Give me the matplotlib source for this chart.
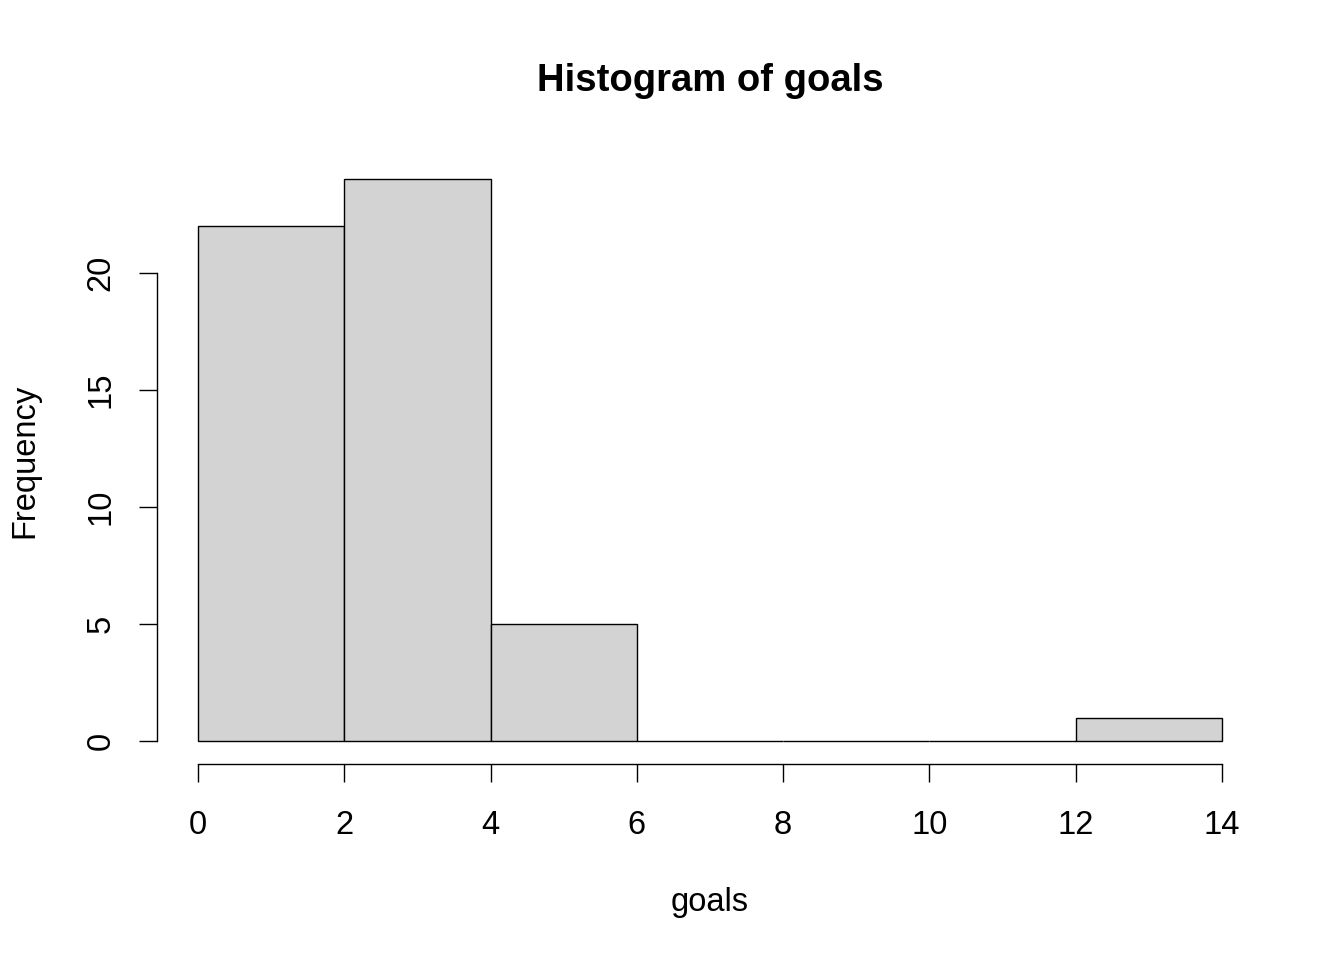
import numpy as np
import matplotlib.pyplot as plt

plt.rcParams['font.family'] = ['Liberation Sans', 'DejaVu Sans']

# histogram of goals: bin edges and counts
bin_edges = [0, 2, 4, 6, 8, 10, 12, 14]
counts = [22, 24, 5, 0, 0, 0, 1]
x_ticks = [0, 2, 4, 6, 8, 10, 12, 14]
y_ticks = [0, 5, 10, 15, 20]

W, H = 1344, 960
fig = plt.figure(figsize=(W / 100, H / 100), dpi=100)
# plot region in pixels, as R lays it out
left, right, top, bottom = 157, 1263, 157, 763.5
ax = fig.add_axes([left / W, 1 - bottom / H, (right - left) / W, (bottom - top) / H])

edges = np.array(bin_edges)
ax.bar(edges[:-1], counts, width=np.diff(edges), align='edge',
       color='#D3D3D3', edgecolor='black', linewidth=1.0)

# R's 4% range expansion
ax.set_xlim(0 - 0.04 * 14, 14 + 0.04 * 14)
ax.set_ylim(0 - 0.04 * 24, 24 + 0.04 * 24)

for s in ['top', 'right']:
    ax.spines[s].set_visible(False)
ax.spines['left'].set_bounds(0, 20)
ax.spines['bottom'].set_bounds(0, 14)
ax.spines['left'].set_linewidth(1.0)
ax.spines['bottom'].set_linewidth(1.0)

ax.set_xticks(x_ticks)
ax.set_xticklabels([str(v) for v in x_ticks])
ax.set_yticks(y_ticks)
ax.set_yticklabels([str(v) for v in y_ticks], rotation=90, va='center')
ax.tick_params(axis='both', length=13, width=1.0, labelsize=23.5, direction='out')
ax.tick_params(axis='x', pad=20.5)
ax.tick_params(axis='y', pad=16)

fig.text(710 / W, 1 - 81 / H, 'Histogram of goals', ha='center', va='center',
         fontsize=27.5, fontweight='bold')
fig.text(710 / W, 1 - 903 / H, 'goals', ha='center', va='center', fontsize=23.5)
fig.text(25 / W, 1 - 461 / H, 'Frequency', ha='center', va='center',
         fontsize=23.5, rotation=90)

fig.savefig('out.png', dpi=100, facecolor='white')
